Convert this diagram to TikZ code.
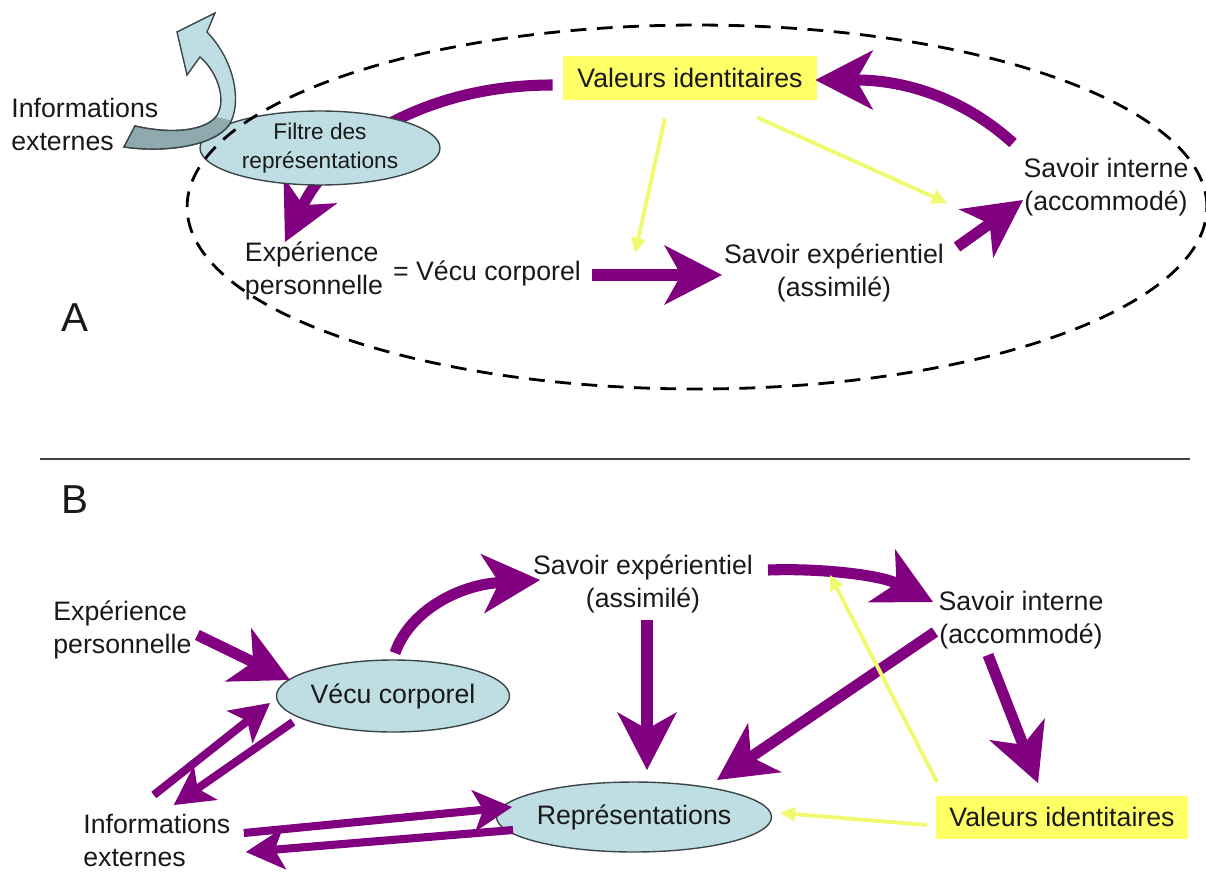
\documentclass[tikz,border=0pt]{standalone}
\usepackage{fontspec}
\setmainfont{Liberation Sans}
\usetikzlibrary{arrows.meta,shapes.geometric,calc}
\definecolor{purp}{RGB}{128,0,128}
\definecolor{ybox}{RGB}{255,255,102}
\definecolor{yel}{RGB}{240,250,110}
\definecolor{ellfill}{RGB}{190,222,228}
\definecolor{ellline}{RGB}{60,70,72}
\definecolor{darkband}{RGB}{143,170,174}
\definecolor{ink}{RGB}{25,25,25}
\begin{document}
\begin{tikzpicture}[x=0.02cm,y=-0.02cm,
  txt/.style={inner sep=0pt, text=ink, font=\fontsize{15.2}{18.8}\selectfont, align=center},
  lefttxt/.style={txt, align=left},
  oval/.style={ellipse, draw=ellline, line width=0.8pt, fill=ellfill, inner sep=0pt, text=ink,
               font=\fontsize{15.2}{18.8}\selectfont, align=center},
  valbox/.style={rectangle, fill=ybox, inner sep=0pt, text=ink, minimum width=5.08cm,
                 minimum height=0.88cm, font=\fontsize{15.2}{18.8}\selectfont},
  panel/.style={inner sep=0pt, text=ink, font=\fontsize{23}{27}\selectfont},
  bigarrow/.style={draw=purp, line width=6.3pt,
                   -{Stealth[length=1.16cm,width=1.2cm,inset=0.34cm,line width=0pt]}},
  smallarrow/.style={draw=purp, line width=4.6pt,
                     -{Stealth[length=0.78cm,width=0.84cm,inset=0.2cm,line width=0pt]}},
  yarrow/.style={draw=yel, line width=2.2pt, -{Triangle[length=0.3cm,width=0.3cm,line width=0pt]}},
  bordure/.style={draw=black, line width=1.6pt, dash pattern=on 9pt off 6pt}
]
\useasboundingbox (0,0) rectangle (1206,872);

% ---------------- Panel A ----------------
\node[panel] (labA) at (75,318) {A};
\node[valbox] (valA) at (690,78) {Valeurs identitaires};
\node[lefttxt, anchor=west] (infoA) at (11,124) {Informations\\externes};
\node[lefttxt] (expA) at (314,271) {Expérience\\personnelle};
\node[txt] (vecuA) at (487,273) {= Vécu corporel};
\node[txt] (sexpA) at (834,273) {Savoir expérientiel\\(assimilé)};
\node[txt] (sintA) at (1106,187) {Savoir interne\\(accommodé)};

% identity values feed the representation filter
\draw[bigarrow] ($(valA.west)+(-10,7)$) .. controls +(-133,0) and +(45,-92) .. ($(expA.center)+(-29,-29)$);

\node[oval, minimum width=4.8cm, minimum height=1.48cm,
      font=\fontsize{12.9}{16.5}\selectfont] (filtre) at (320,148) {Filtre des\\représentations};

% external information deflected by the filter
\path[fill=ellfill, draw=ellline, line width=0.8pt]
  (135,126) .. controls (165,133) and (200,133) .. (215,118)
  .. controls (228,103) and (218,72) .. (200,57)
  -- (187,75) -- (177,32) -- (215,13) -- (207,32)
  .. controls (236,62) and (242,105) .. (229,125)
  .. controls (214,146) and (165,153) .. (124,147) -- cycle;
\begin{scope}
  \clip (100,100) -- (200,100) -- (216,117) -- (250,125) -- (250,170) -- (100,170) -- cycle;
  \path[fill=darkband, draw=ellline, line width=0.8pt]
    (135,126) .. controls (165,133) and (200,133) .. (215,118)
    .. controls (228,103) and (218,72) .. (200,57)
    -- (187,75) -- (177,32) -- (215,13) -- (207,32)
    .. controls (236,62) and (242,105) .. (229,125)
    .. controls (214,146) and (165,153) .. (124,147) -- cycle;
\end{scope}

\draw[bigarrow] ($(vecuA.center)+(105,2)$) -- ($(sexpA.center)+(-112,2)$);
\draw[bigarrow] ($(sexpA.center)+(123,-26)$) -- ($(sintA.center)+(-83,13)$);
\draw[bigarrow] ($(sintA.center)+(-93,-44)$) .. controls +(-53,-48) and +(85,0) .. ($(valA.east)+(-2,2)$);

\draw[yarrow] ($(valA.south)+(-25,18)$) -- ($(sexpA.center)+(-199,-20)$);
\draw[yarrow] ($(valA.south)+(67,17)$) -- ($(sintA.center)+(-159,16)$);

% boundary of the individual
\draw[bordure] (697,207) ellipse [x radius=10.2cm, y radius=3.64cm];

% separator
\draw[draw=black!75, line width=1.5pt] (40,459) -- (1190,459);

% ---------------- Panel B ----------------
\node[panel] (labB) at (75,500) {B};
\node[lefttxt, anchor=west] (expB) at (53,630) {Expérience\\personnelle};
\node[oval, minimum width=4.48cm, minimum height=1.44cm] (vecuB) at (393,696) {Vécu corporel};
\node[txt] (sexpB) at (643,584) {Savoir expérientiel\\(assimilé)};
\node[oval, minimum width=4.44cm, minimum height=1.4cm] (repB) at (634,817) {Représentations};
\node[txt] (sintB) at (1021,620) {Savoir interne\\(accommodé)};
\node[valbox, minimum width=5.06cm, minimum height=0.86cm] (valB) at (1062,817) {Valeurs identitaires};
\node[lefttxt, anchor=west] (infoB) at (83,840) {Informations\\externes};
\coordinate (pivot) at ($(sexpB.center)+(187,-9)$);

\draw[bigarrow] ($(expB.center)+(75,5)$) -- ($(vecuB.center)+(-103,-16)$);
\draw[bigarrow] ($(vecuB.center)+(2,-43)$) .. controls +(15,-43) and +(-80,5) .. ($(sexpB.center)+(-103,-4)$);
\draw[bigarrow] ($(sexpB.center)+(4,36)$) -- ($(repB.center)+(13,-47)$);
\draw[bigarrow] ($(sexpB.center)+(125,-14)$) .. controls +(52,-2) and +(-53,-27) .. ($(sintB.center)+(-88,-18)$);
\draw[bigarrow] ($(sintB.center)+(-86,12)$) -- ($(repB.center)+(83,-37)$);
\draw[bigarrow] ($(sintB.center)+(-33,35)$) -- ($(valB.center)+(-24,-34)$);

\draw[smallarrow] ($(infoB.center)+(-3,-45)$) -- ($(vecuB.center)+(-123,7)$);
\draw[smallarrow] ($(vecuB.center)+(-100,26)$) -- ($(infoB.center)+(17,-35)$);
\draw[smallarrow] ($(infoB.center)+(87,-7)$) -- ($(repB.center)+(-122,-10)$);
\draw[smallarrow] ($(repB.center)+(-121,13)$) -- ($(infoB.center)+(89,12)$);

\draw[yarrow] ($(valB.center)+(-125,-35)$) -- (pivot);
\draw[yarrow] ($(valB.west)+(-8,8)$) -- ($(repB.east)+(8,-4)$);
\end{tikzpicture}
\end{document}
